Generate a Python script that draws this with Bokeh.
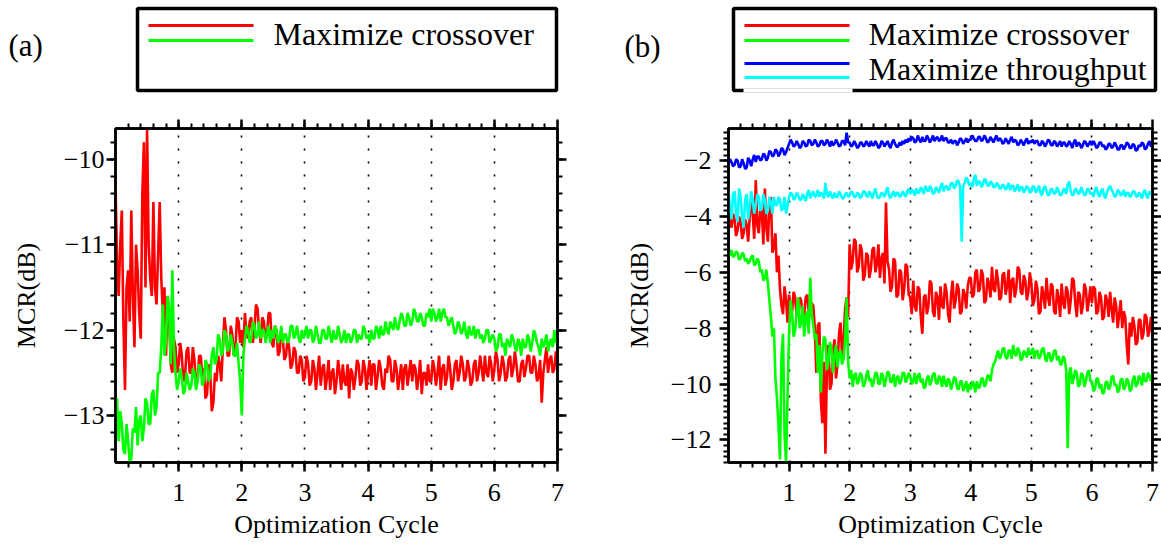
import numpy as np
from bokeh.plotting import figure
from bokeh.layouts import column, row
from bokeh.models import Range1d, LinearAxis, FixedTicker
from bokeh.core.properties import value
from bokeh.embed import file_html
from bokeh.resources import INLINE

# ---------------- data ----------------
# each series: one list per optimization cycle (samples every 0.025 cycle), plus end value at 7
STEP = 0.025

a_red_cycles = [
    [-10.3, -11.2, -11.6, -11.0, -10.6, -11.9, -12.7, -11.5, -11.3, -11.9, -10.6, -11.6, -12.2, -11.0, -11.3, -11.8, -12.1, -10.4, -9.8, -11.5,
     -9.65, -11.0, -11.4, -11.6, -10.5, -11.5, -11.7, -11.1, -10.5, -11.4, -11.8, -11.5, -12.3, -11.6, -11.9, -12.4, -12.5, -12.1, -12.2, -12.5],
    [-12.4, -12.15, -12.3, -12.6, -12.55, -12.25, -12.2, -12.5, -12.5, -12.2, -12.35, -12.65, -12.6, -12.3, -12.3, -12.55, -12.45, -12.8, -12.75, -12.4,
     -12.5, -12.95, -12.85, -12.5, -12.6, -12.3, -12.4, -12.6, -12.2, -11.85, -12.0, -12.3, -12.3, -11.95, -12.05, -12.3, -12.2, -11.85, -11.9, -12.15],
    [-12.0, -12.2, -11.8, -12.05, -12.1, -11.9, -11.85, -12.15, -12.0, -11.7, -11.75, -12.0, -12.15, -11.85, -11.9, -12.1, -12.05, -11.8, -11.8, -12.15,
     -12.2, -11.95, -12.0, -12.3, -12.25, -12.0, -12.1, -12.35, -12.3, -12.1, -12.2, -12.45, -12.4, -12.2, -12.25, -12.5, -12.5, -12.3, -12.35, -12.6],
    [-12.55, -12.3, -12.4, -12.65, -12.6, -12.35, -12.45, -12.7, -12.5, -12.3, -12.65, -12.45, -12.4, -12.7, -12.55, -12.35, -12.7, -12.5, -12.45, -12.75,
     -12.6, -12.35, -12.5, -12.7, -12.4, -12.6, -12.65, -12.4, -12.8, -12.45, -12.5, -12.7, -12.55, -12.35, -12.4, -12.65, -12.6, -12.35, -12.45, -12.7],
    [-12.5, -12.35, -12.65, -12.4, -12.4, -12.7, -12.55, -12.35, -12.45, -12.65, -12.7, -12.45, -12.5, -12.3, -12.35, -12.6, -12.6, -12.35, -12.45, -12.7,
     -12.55, -12.4, -12.7, -12.45, -12.4, -12.65, -12.5, -12.35, -12.6, -12.4, -12.45, -12.7, -12.55, -12.35, -12.75, -12.5, -12.5, -12.65, -12.4, -12.6],
    [-12.6, -12.35, -12.45, -12.65, -12.5, -12.3, -12.7, -12.45, -12.4, -12.65, -12.55, -12.3, -12.45, -12.7, -12.6, -12.4, -12.35, -12.6, -12.5, -12.3,
     -12.4, -12.6, -12.55, -12.35, -12.45, -12.65, -12.6, -12.4, -12.35, -12.6, -12.5, -12.3, -12.45, -12.6, -12.3, -12.5, -12.55, -12.3, -12.4, -12.6],
    [-12.45, -12.25, -12.35, -12.6, -12.5, -12.3, -12.4, -12.6, -12.55, -12.35, -12.3, -12.55, -12.45, -12.25, -12.4, -12.6, -12.6, -12.4, -12.35, -12.55,
     -12.45, -12.3, -12.3, -12.5, -12.5, -12.3, -12.4, -12.6, -12.55, -12.35, -12.85, -12.5, -12.35, -12.2, -12.5, -12.35, -12.3, -12.5, -12.45, -12.25],
]
a_red_end = -12.3

a_green_cycles = [
    [-13.0, -12.8, -13.3, -12.95, -13.1, -13.4, -13.45, -13.1, -13.3, -13.55, -13.5, -13.15, -13.2, -12.9, -13.35, -13.05, -13.0, -13.3, -13.15, -12.8,
     -12.85, -13.1, -13.1, -12.75, -12.7, -13.0, -12.9, -12.5, -12.5, -12.2, -11.7, -12.3, -12.1, -11.6, -11.75, -12.4, -11.3, -12.2, -12.5, -12.7],
    [-12.6, -12.45, -12.55, -12.75, -12.7, -12.5, -12.6, -12.7, -12.65, -12.45, -12.5, -12.7, -12.6, -12.4, -12.45, -12.65, -12.6, -12.35, -12.4, -12.6,
     -12.55, -12.3, -12.2, -12.4, -12.35, -12.05, -12.1, -12.3, -12.25, -12.0, -12.05, -12.25, -12.2, -12.05, -12.15, -12.3, -12.3, -12.15, -12.4, -12.6],
    [-13.0, -12.3, -12.1, -11.95, -12.0, -12.15, -12.1, -11.9, -11.95, -12.1, -12.05, -11.9, -12.1, -12.0, -12.0, -12.15, -12.05, -11.95, -12.15, -12.0,
     -12.1, -11.95, -12.0, -12.15, -12.1, -11.95, -12.15, -12.05, -12.05, -12.15, -12.1, -11.95, -11.95, -12.1, -12.05, -11.95, -12.1, -12.15, -12.0, -12.1],
    [-12.05, -11.95, -12.1, -12.0, -12.0, -12.15, -12.1, -11.95, -12.05, -12.15, -12.15, -12.0, -12.0, -12.1, -12.1, -11.95, -12.05, -12.15, -12.0, -12.1,
     -12.1, -11.95, -12.05, -12.15, -12.1, -12.0, -12.15, -12.05, -12.05, -12.15, -12.1, -12.0, -12.0, -12.15, -12.05, -12.1, -12.1, -11.95, -12.0, -12.1],
    [-12.05, -12.15, -12.0, -12.1, -12.1, -11.95, -12.0, -12.1, -11.95, -12.05, -12.05, -11.9, -12.0, -12.05, -11.9, -11.95, -12.0, -11.85, -11.95, -12.0,
     -11.9, -11.8, -11.85, -11.95, -11.95, -11.8, -11.85, -11.95, -11.9, -11.75, -11.8, -11.9, -11.9, -11.8, -11.85, -11.95, -11.95, -11.8, -11.85, -11.75],
    [-11.9, -11.75, -11.8, -11.9, -11.85, -11.75, -11.9, -11.8, -11.75, -11.85, -11.85, -11.95, -11.9, -11.85, -11.95, -12.05, -12.0, -11.9, -11.95, -12.05,
     -12.0, -11.9, -12.05, -12.1, -11.95, -12.05, -12.05, -11.95, -12.1, -12.0, -12.0, -12.1, -12.05, -12.15, -12.1, -12.0, -12.0, -12.15, -12.1, -12.05],
    [-12.1, -12.25, -12.2, -12.05, -12.05, -12.2, -12.15, -12.3, -12.1, -12.15, -12.2, -12.05, -12.1, -12.2, -12.25, -12.1, -12.15, -12.3, -12.1, -12.2,
     -12.2, -12.05, -12.1, -12.25, -12.15, -12.0, -12.05, -12.15, -12.2, -12.3, -12.1, -12.2, -12.15, -12.05, -12.25, -12.15, -12.1, -12.2, -12.0, -12.15],
]
a_green_end = -12.1

b_red_cycles = [
    [-3.6, -4.2, -4.4, -3.9, -4.1, -4.7, -4.5, -4.0, -4.2, -4.8, -4.6, -4.1, -4.3, -4.9, -4.0, -3.5, -3.9, -4.8, -2.7, -4.3,
     -4.6, -3.7, -3.8, -5.0, -3.0, -4.4, -4.9, -3.6, -3.3, -5.3, -5.1, -4.6, -6.0, -5.4, -6.6, -7.2, -7.5, -6.5, -7.0, -7.8],
    [-6.8, -7.3, -7.4, -6.7, -6.9, -7.6, -7.3, -6.9, -7.0, -7.7, -7.5, -6.9, -6.8, -7.4, -7.6, -7.1, -7.2, -8.0, -9.6, -7.9,
     -7.8, -10.6, -11.4, -9.2, -12.5, -9.4, -8.6, -10.2, -10.0, -8.8, -8.4, -9.8, -9.3, -8.2, -7.8, -9.0, -8.5, -7.3, -6.9, -7.6],
    [-5.0, -5.9, -5.6, -4.8, -4.9, -6.0, -5.8, -5.0, -5.2, -6.3, -6.1, -5.3, -5.4, -6.2, -5.9, -5.2, -5.1, -6.0, -5.7, -5.0,
     -6.2, -5.5, -5.3, -6.4, -3.5, -5.6, -5.9, -6.7, -6.5, -5.5, -5.6, -6.9, -6.8, -5.9, -6.0, -7.0, -6.6, -5.7, -5.8, -6.8],
    [-6.9, -7.5, -6.3, -7.2, -7.4, -6.5, -6.6, -7.6, -8.2, -6.9, -6.8, -7.5, -7.2, -6.3, -6.4, -7.4, -7.6, -6.7, -6.9, -7.7,
     -6.5, -7.2, -7.3, -6.4, -6.7, -7.5, -7.8, -6.8, -6.3, -7.3, -7.0, -6.4, -6.6, -7.5, -7.4, -6.6, -6.8, -7.3, -6.5, -6.2],
    [-6.2, -6.9, -6.8, -6.0, -5.9, -6.7, -6.6, -5.9, -6.1, -7.1, -7.0, -6.2, -6.4, -6.9, -5.8, -6.6, -6.7, -5.9, -6.3, -7.0,
     -6.9, -6.1, -6.0, -6.8, -6.5, -5.9, -7.1, -6.3, -6.2, -6.9, -6.6, -5.8, -5.9, -6.7, -6.8, -6.1, -6.3, -7.0, -6.7, -6.0],
    [-6.4, -7.2, -7.0, -6.3, -6.6, -7.5, -7.4, -6.5, -6.8, -7.3, -6.2, -6.9, -7.2, -6.4, -6.5, -7.4, -7.5, -6.6, -6.9, -7.6,
     -6.4, -7.1, -7.3, -6.5, -6.7, -7.5, -7.0, -6.2, -6.3, -7.1, -7.6, -6.7, -6.8, -7.5, -7.2, -6.4, -6.6, -7.4, -7.0, -6.5],
    [-7.1, -6.5, -6.6, -7.5, -7.4, -6.7, -6.9, -7.7, -7.6, -6.8, -7.0, -7.6, -6.7, -7.3, -7.8, -6.9, -7.2, -8.0, -7.5, -7.0,
     -8.0, -7.4, -7.6, -8.6, -9.3, -7.8, -8.3, -7.6, -7.9, -8.6, -8.5, -7.7, -7.7, -8.4, -8.2, -7.5, -7.6, -8.3, -8.1, -7.6],
]
b_red_end = -7.9

b_green_cycles = [
    [-5.3, -5.4, -5.2, -5.45, -5.4, -5.25, -5.3, -5.55, -5.5, -5.3, -5.35, -5.6, -5.5, -5.7, -5.6, -5.45, -5.4, -5.75, -5.7, -5.5,
     -5.6, -6.0, -5.9, -6.3, -6.2, -5.9, -6.4, -7.0, -7.6, -8.3, -8.0, -9.8, -10.5, -11.5, -12.7, -9.0, -8.2, -11.8, -12.8, -10.4],
    [-8.2, -7.0, -7.5, -8.3, -8.1, -7.4, -6.9, -8.0, -7.8, -7.2, -8.3, -7.6, -7.4, -8.2, -6.2, -7.5, -7.9, -8.4, -8.2, -9.6,
     -8.6, -10.3, -8.9, -8.3, -8.4, -9.5, -9.2, -8.5, -8.7, -9.6, -9.0, -8.6, -9.4, -8.9, -8.8, -9.3, -9.1, -8.4, -6.9, -9.2],
    [-9.8, -9.5, -10.1, -9.7, -9.6, -10.0, -9.9, -9.6, -9.7, -10.1, -10.0, -9.7, -9.5, -9.9, -9.8, -10.1, -9.9, -9.6, -9.6, -10.0,
     -10.0, -9.6, -9.7, -10.1, -9.85, -9.55, -9.6, -9.95, -9.9, -9.65, -10.1, -9.8, -9.7, -10.0, -9.9, -9.6, -9.6, -9.95, -9.8, -9.6],
    [-9.7, -10.0, -9.9, -9.6, -10.0, -9.75, -9.6, -9.95, -9.8, -10.15, -10.1, -9.8, -9.7, -10.05, -9.9, -9.65, -9.6, -9.95, -10.0, -9.7,
     -9.8, -10.1, -9.7, -9.95, -10.1, -9.8, -9.9, -10.2, -10.0, -9.75, -9.8, -10.15, -10.2, -9.9, -9.9, -10.25, -10.1, -9.9, -10.3, -10.0],
    [-10.2, -9.9, -10.0, -10.3, -9.9, -10.15, -10.1, -9.8, -9.8, -10.1, -10.0, -9.7, -9.7, -9.9, -9.5, -9.3, -9.2, -9.0, -8.8, -9.1,
     -9.0, -8.75, -8.7, -9.05, -9.1, -8.8, -8.8, -9.1, -8.6, -8.9, -9.0, -8.7, -8.8, -9.15, -9.1, -8.8, -8.9, -9.05, -8.7, -8.95],
    [-8.9, -8.7, -9.1, -8.85, -8.8, -9.1, -9.0, -8.75, -8.7, -9.05, -9.2, -8.9, -8.9, -9.2, -9.1, -8.8, -8.8, -9.15, -9.0, -9.3,
     -9.3, -9.0, -9.1, -9.5, -12.3, -9.6, -9.4, -10.0, -9.8, -9.5, -9.6, -10.1, -10.0, -9.6, -9.7, -10.1, -9.9, -9.6, -9.5, -9.9],
    [-9.9, -10.25, -10.2, -9.8, -9.8, -10.15, -10.0, -10.35, -10.3, -9.95, -9.9, -10.2, -10.1, -9.75, -9.7, -10.05, -10.0, -10.3, -10.2, -9.85,
     -9.8, -10.2, -10.1, -9.8, -9.9, -10.25, -10.2, -9.85, -9.7, -10.1, -10.0, -9.7, -9.8, -10.05, -9.6, -9.9, -9.9, -9.6, -9.7, -9.9],
]
b_green_end = -9.6

b_blue_cycles = [
    [-2.1, -1.95, -2.05, -2.2, -2.15, -1.95, -2.0, -2.25, -2.2, -1.95, -2.1, -2.3, -2.25, -1.9, -2.0, -2.2, -1.95, -1.8, -2.05, -1.85,
     -1.85, -2.0, -1.95, -1.75, -1.8, -2.0, -1.9, -1.65, -1.7, -1.85, -1.8, -1.6, -1.65, -1.85, -1.75, -1.55, -1.6, -1.8, -1.7, -1.55],
    [-1.4, -1.25, -1.35, -1.5, -1.45, -1.3, -1.4, -1.55, -1.5, -1.3, -1.35, -1.5, -1.45, -1.25, -1.3, -1.45, -1.4, -1.25, -1.35, -1.5,
     -1.45, -1.3, -1.3, -1.45, -1.4, -1.25, -1.35, -1.5, -1.3, -1.45, -1.4, -1.25, -1.35, -1.5, -1.45, -1.3, -1.3, -1.45, -1.0, -1.35],
    [-1.35, -1.5, -1.45, -1.3, -1.4, -1.55, -1.5, -1.35, -1.35, -1.5, -1.45, -1.3, -1.4, -1.5, -1.3, -1.45, -1.45, -1.3, -1.4, -1.55,
     -1.5, -1.3, -1.35, -1.5, -1.4, -1.3, -1.45, -1.55, -1.35, -1.25, -1.4, -1.5, -1.5, -1.35, -1.45, -1.3, -1.4, -1.25, -1.35, -1.2],
    [-1.3, -1.15, -1.2, -1.35, -1.3, -1.1, -1.25, -1.35, -1.15, -1.3, -1.3, -1.1, -1.2, -1.35, -1.25, -1.1, -1.3, -1.2, -1.15, -1.3,
     -1.25, -1.1, -1.3, -1.2, -1.2, -1.35, -1.35, -1.25, -1.4, -1.3, -1.3, -1.45, -1.35, -1.2, -1.25, -1.4, -1.3, -1.2, -1.35, -1.25],
    [-1.25, -1.1, -1.2, -1.3, -1.3, -1.15, -1.15, -1.3, -1.25, -1.1, -1.2, -1.35, -1.3, -1.15, -1.25, -1.35, -1.2, -1.1, -1.3, -1.2,
     -1.25, -1.4, -1.35, -1.2, -1.3, -1.4, -1.25, -1.15, -1.35, -1.25, -1.3, -1.45, -1.4, -1.25, -1.35, -1.45, -1.3, -1.2, -1.4, -1.3],
    [-1.35, -1.25, -1.4, -1.3, -1.3, -1.45, -1.45, -1.3, -1.35, -1.5, -1.4, -1.25, -1.3, -1.45, -1.45, -1.3, -1.35, -1.5, -1.4, -1.3,
     -1.5, -1.35, -1.35, -1.5, -1.45, -1.3, -1.4, -1.55, -1.35, -1.25, -1.5, -1.35, -1.4, -1.55, -1.45, -1.3, -1.35, -1.5, -1.4, -1.3],
    [-1.45, -1.3, -1.4, -1.55, -1.5, -1.35, -1.35, -1.5, -1.45, -1.6, -1.55, -1.4, -1.4, -1.55, -1.5, -1.35, -1.45, -1.6, -1.6, -1.45,
     -1.45, -1.6, -1.5, -1.35, -1.4, -1.55, -1.55, -1.4, -1.45, -1.65, -1.6, -1.45, -1.5, -1.35, -1.4, -1.6, -1.55, -1.4, -1.3, -1.5],
]
b_blue_end = -1.4

b_cyan_cycles = [
    [-3.0, -3.8, -4.1, -3.2, -3.1, -3.9, -4.2, -3.0, -3.3, -4.0, -4.4, -3.4, -3.2, -4.1, -3.7, -3.1, -3.4, -3.9, -3.6, -3.2,
     -3.3, -3.8, -3.7, -3.2, -3.4, -3.9, -3.8, -3.3, -3.5, -3.9, -3.3, -3.6, -3.6, -3.3, -3.4, -3.8, -3.7, -3.3, -3.9, -3.6],
    [-3.3, -3.15, -3.2, -3.4, -3.35, -3.15, -3.25, -3.4, -3.4, -3.2, -3.3, -3.45, -3.2, -3.05, -3.35, -3.2, -3.1, -3.3, -3.25, -3.05,
     -3.3, -3.15, -3.2, -3.35, -2.8, -3.2, -3.3, -3.1, -3.25, -3.35, -3.15, -3.3, -3.3, -3.1, -3.2, -3.35, -3.35, -3.2, -3.15, -3.3],
    [-3.25, -3.1, -3.15, -3.3, -3.3, -3.15, -3.2, -3.35, -3.25, -3.1, -3.1, -3.25, -3.3, -3.1, -3.2, -3.35, -3.15, -3.0, -3.25, -3.35,
     -3.3, -3.15, -3.2, -3.3, -3.1, -2.95, -3.25, -3.35, -3.2, -3.1, -3.3, -3.15, -3.15, -3.3, -3.25, -3.1, -3.2, -3.3, -3.1, -3.0],
    [-3.2, -3.05, -3.1, -3.25, -3.0, -3.15, -3.15, -2.95, -3.05, -3.2, -2.9, -3.05, -3.1, -2.9, -3.0, -3.2, -3.15, -2.95, -3.05, -3.15,
     -2.95, -2.8, -3.1, -2.95, -2.9, -3.05, -3.0, -2.8, -2.8, -3.0, -2.9, -2.7, -2.75, -2.95, -4.9, -2.9, -2.8, -2.6, -2.7, -2.9],
    [-2.8, -2.95, -2.65, -2.5, -2.9, -2.75, -2.75, -2.95, -2.85, -2.65, -2.7, -2.9, -2.9, -2.75, -2.8, -2.95, -2.95, -2.8, -2.85, -3.0,
     -3.0, -2.85, -2.9, -3.05, -2.95, -2.8, -3.05, -2.9, -2.9, -3.1, -3.0, -2.85, -3.1, -2.95, -2.95, -3.15, -3.05, -2.9, -3.0, -3.15],
    [-3.1, -2.9, -2.95, -3.15, -3.05, -2.9, -3.15, -3.25, -3.0, -2.9, -3.1, -3.25, -3.2, -3.0, -3.05, -3.2, -3.15, -2.95, -3.1, -3.25,
     -3.2, -3.05, -3.0, -3.2, -2.85, -2.75, -3.1, -3.25, -3.2, -3.0, -3.05, -3.2, -3.15, -2.95, -3.1, -3.25, -3.2, -3.0, -3.05, -3.2],
    [-3.15, -3.3, -3.05, -2.95, -3.2, -3.3, -3.1, -3.0, -3.25, -3.35, -3.1, -3.0, -2.9, -3.05, -3.15, -3.3, -3.25, -3.05, -3.1, -3.25,
     -3.2, -3.05, -3.3, -3.15, -3.15, -3.3, -3.25, -3.1, -3.1, -3.25, -3.3, -3.15, -3.2, -3.35, -3.15, -3.05, -3.25, -3.35, -3.1, -3.2],
]
b_cyan_end = -3.2

x_ticks = [1, 2, 3, 4, 5, 6, 7]
grid_ticks = [1, 2, 3, 4, 5, 6]
a_y_ticks = [-13, -12, -11, -10]
b_y_ticks = [-12, -10, -8, -6, -4, -2]
a_y_range = (-13.55, -9.64)
b_y_range = (-12.81, -0.85)
x_range = (0, 7)
panel_tags = ["(a)", "(b)"]
legend_a = ["Maximize crossover"]
legend_b = ["Maximize crossover", "Maximize throughput"]
RED, GREEN, BLUE, CYAN = "#ff0000", "#00ff00", "#0000ff", "#00ffff"


def series(cycles, end):
    xs, ys = [], []
    for c, vals in enumerate(cycles):
        for k, v in enumerate(vals):
            xs.append(round(c + k * STEP, 4))
            ys.append(v)
    xs.append(float(len(cycles)))
    ys.append(end)
    return xs, ys


# ---------------- style ----------------
FONT = "'Liberation Serif', 'Times New Roman', serif"
W = 1161
HEADER_H = 110
PANEL_H = 544 - HEADER_H
TOP_B = 128 - HEADER_H
BOT_B = 82


def minus(v):
    return ("\u2212" + str(abs(v))) if v < 0 else str(v)


def style_axis(ax, show_labels, ticks=None, standoff=4, label_standoff=8):
    ax.axis_line_width = 2.5
    ax.axis_line_color = "black"
    ax.major_tick_line_width = 2.5
    ax.minor_tick_line_width = 2
    ax.major_tick_line_color = "black"
    ax.minor_tick_line_color = "black"
    ax.major_tick_in = 0
    ax.major_tick_out = 9
    ax.minor_tick_in = 0
    ax.minor_tick_out = 5
    if show_labels:
        ax.major_label_text_font = FONT
        ax.major_label_text_font_size = "26px"
        ax.major_label_text_color = "black"
        ax.major_label_standoff = standoff
        ax.axis_label_text_font = FONT
        ax.axis_label_text_font_size = "26px"
        ax.axis_label_text_font_style = "normal"
        ax.axis_label_text_color = "black"
        ax.axis_label_standoff = label_standoff
    else:
        ax.major_label_overrides = {v: "" for v in ticks}
        ax.major_label_text_font_size = "1px"
        ax.major_label_standoff = 0


def make_panel(width, mbl, mbr, yr, yticks, data, ystand, ylabstand):
    p = figure(width=width, height=PANEL_H, x_range=Range1d(*x_range),
               y_range=Range1d(*yr), output_backend="svg", toolbar_location=None,
               min_border_left=mbl, min_border_right=mbr,
               min_border_top=TOP_B, min_border_bottom=BOT_B,
               x_axis_label="Optimization Cycle", y_axis_label="MCR(dB)")
    p.background_fill_color = "white"
    p.border_fill_color = "white"
    p.outline_line_color = "black"
    p.outline_line_width = 2.5

    xminor = [round(k * 0.2, 2) for k in range(1, 35)]
    start = np.ceil(yr[0] / 0.2) * 0.2
    yminor = [round(start + k * 0.2, 2) for k in range(int((yr[1] - start) / 0.2) + 1)]

    bx = p.below[0]
    bx.ticker = FixedTicker(ticks=x_ticks, minor_ticks=xminor)
    style_axis(bx, True, standoff=12, label_standoff=6)
    ly = p.left[0]
    ly.ticker = FixedTicker(ticks=yticks, minor_ticks=yminor)
    ly.major_label_overrides = {v: minus(v) for v in yticks}
    style_axis(ly, True, standoff=ystand, label_standoff=ylabstand)

    top = LinearAxis(ticker=FixedTicker(ticks=x_ticks, minor_ticks=xminor))
    style_axis(top, False, ticks=x_ticks)
    p.add_layout(top, "above")
    rgt = LinearAxis(ticker=FixedTicker(ticks=yticks, minor_ticks=yminor))
    style_axis(rgt, False, ticks=yticks)
    p.add_layout(rgt, "right")

    p.ygrid.visible = False
    p.xgrid.ticker = FixedTicker(ticks=grid_ticks)
    p.xgrid.grid_line_color = "black"
    p.xgrid.grid_line_width = 1.6
    p.xgrid.grid_line_dash = "2 11"

    for (cyc, end), col in data:
        xs, ys = series(cyc, end)
        p.line(xs, ys, line_color=col, line_width=2.6)
    return p


pa = make_panel(600, 115, 43, a_y_range, a_y_ticks,
                [((a_red_cycles, a_red_end), RED), ((a_green_cycles, a_green_end), GREEN)], 2, 20)
pb = make_panel(W - 600, 128, 9, b_y_range, b_y_ticks,
                [((b_red_cycles, b_red_end), RED), ((b_green_cycles, b_green_end), GREEN),
                 ((b_blue_cycles, b_blue_end), BLUE), ((b_cyan_cycles, b_cyan_end), CYAN)], 8, 14)

# ---------------- header with legends ----------------
h = figure(width=W, height=HEADER_H, x_range=Range1d(0, W), y_range=Range1d(HEADER_H, 0),
           output_backend="svg", toolbar_location=None, min_border=0,
           x_axis_location=None, y_axis_location=None, outline_line_color=None)
h.grid.visible = False
h.background_fill_color = "white"
h.border_fill_color = "white"

h.quad(left=[137, 733], right=[556, 1155], top=[8, 8], bottom=[90, 90],
       fill_color=None, line_color="black", line_width=3.5)
h.segment(x0=[743], y0=[90], x1=[852], y1=[90], line_color="white", line_width=4)
h.segment(x0=[148, 148, 744, 744, 744, 744], y0=[25, 40, 25, 40, 63, 77],
          x1=[253, 253, 849, 849, 849, 849], y1=[25, 40, 25, 40, 63, 77],
          line_color=[RED, GREEN, RED, GREEN, BLUE, CYAN], line_width=3)
h.text(x=[273, 868, 868], y=[33, 33, 68], text=legend_a + legend_b,
       text_font=value(FONT), text_font_size=value("32px"),
       text_baseline="middle", text_align="left", text_color="black")
h.text(x=[8, 624], y=[45, 46], text=panel_tags,
       text_font=value(FONT), text_font_size=value("31px"),
       text_baseline="middle", text_align="left", text_color="black")

layout = column(h, row(pa, pb))
open("out.html", "w").write(file_html(layout, INLINE))
